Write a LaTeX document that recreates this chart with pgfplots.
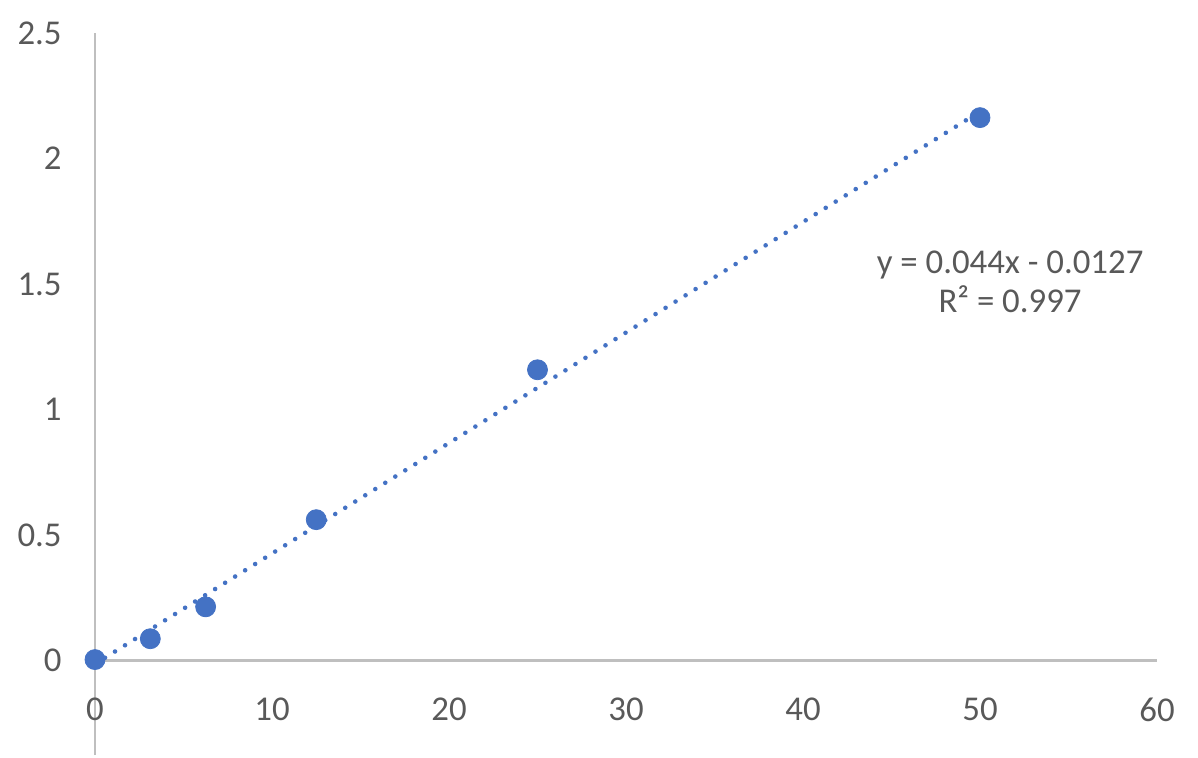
\documentclass[border=0pt]{standalone}
\usepackage{pgfplots}
\pgfplotsset{compat=1.18}
\usepackage{fontspec}
\setmainfont{Carlito}
\definecolor{axisgray}{HTML}{BFBFBF}
\definecolor{txtgray}{HTML}{595959}
\definecolor{xlblue}{HTML}{4472C4}
\begin{document}
\begin{tikzpicture}
\begin{axis}[
    scale only axis,
    width=531bp, height=361bp,
    xmin=0, xmax=60,
    ymin=-0.375, ymax=2.5,
    axis x line=middle,
    axis y line=left,
    axis line style={draw=axisgray, line width=1.35bp, -},
    xtick={0,10,...,60},
    ytick={0,0.5,1,1.5,2,2.5},
    major tick length=0pt,
    hide obscured x ticks=false,
    hide obscured y ticks=false,
    ticklabel style={font=\fontsize{17.4bp}{21bp}\selectfont, text=txtgray, inner sep=0pt},
    xticklabel style={anchor=north, yshift=-18.5bp},
    yticklabel style={anchor=east, xshift=-16.5bp},
    /pgf/number format/assume math mode=true,
    clip=false,
]
% dotted linear trendline
\addplot[xlblue, line width=2.3bp, line cap=round, dash pattern=on 0bp off 5.9bp] coordinates {
(0,-0.0127) (50,2.1873)
};
% measured points
\addplot[only marks, mark=*, mark size=5bp, mark options={fill=xlblue, draw=xlblue}] coordinates {
(0,0.005) (3.125,0.088) (6.25,0.215) (12.5,0.562) (25,1.159) (50,2.163)
};
\node[align=center, text=txtgray, font=\fontsize{17.4bp}{19.5bp}\selectfont] at (axis cs:51.7,1.51)
    {y = 0.044x - 0.0127\\R² = 0.997};
\coordinate (sw) at (rel axis cs:0,0);
\end{axis}
\useasboundingbox ([xshift=-47.5bp,yshift=-1.5bp]sw) rectangle ([xshift=551.5bp,yshift=377.5bp]sw);
\end{tikzpicture}
\end{document}
